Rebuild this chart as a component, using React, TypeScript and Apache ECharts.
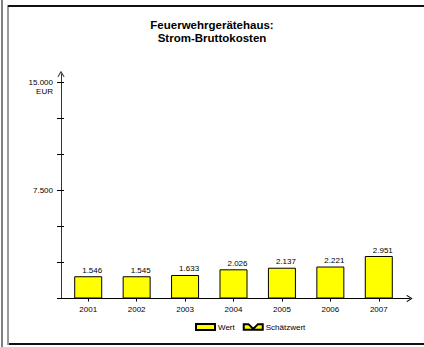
import React, { useEffect, useRef } from "react";
import * as echarts from "echarts";

const titleLines = ["Feuerwehrgerätehaus:", "Strom-Bruttokosten"];
const years = ["2001", "2002", "2003", "2004", "2005", "2006", "2007"];
const wert = [1546, 1545, 1633, 2026, 2137, 2221, 2951];
const schaetzwert: number[] = [];
const seriesNames = ["Wert", "Schätzwert"];
const yMax = 15000;
const yInterval = 2500;
const yLabelValues = [7500, 15000];
const unit = "EUR";

const fmt = (v: number) => String(v).replace(/\B(?=(\d{3})+(?!\d))/g, ".");

const chevron = "path://M5,0L10,8L9,9L5,2.6L1,9L0,8Z";
const FONT = "Liberation Sans, Arial, sans-serif";

export default function App() {
  const ref = useRef<HTMLDivElement>(null);
  useEffect(() => {
    if (!ref.current) return;
    const chart = echarts.init(ref.current, undefined, { renderer: "svg" });
    chart.setOption({
      animation: false,
      backgroundColor: "#fff",
      textStyle: { fontFamily: FONT },
      title: {
        text: titleLines.join("\n"),
        left: "center",
        top: 18,
        padding: [0, 0, 0, 14],
        textStyle: { fontFamily: FONT, fontSize: 11.5, fontWeight: "bold", color: "#000", lineHeight: 13 },
      },
      legend: {
        left: 190,
        top: 318,
        itemWidth: 19,
        itemHeight: 6,
        itemGap: 8,
        textStyle: { fontFamily: FONT, fontSize: 8, color: "#000", padding: [0, 0, 0, -2] },
        data: [
          { name: seriesNames[0], icon: "rect" },
          { name: seriesNames[1], icon: "path://M0,0L5,0L10,5L15,0L20,0L20,6L0,6Z" },
        ],
      },
      grid: [
        { left: 64, top: 82.5, width: 339, height: 216 },
        { left: 61, top: 74, width: 348.5, height: 224.5 },
      ],
      xAxis: [
        {
          gridIndex: 0,
          type: "category",
          data: years,
          axisLine: { show: false },
          axisTick: { show: true, alignWithLabel: true, length: 3, lineStyle: { color: "#000" } },
          axisLabel: { fontFamily: FONT, fontSize: 8, color: "#000", margin: 7 },
          splitLine: { show: false },
        },
        {
          gridIndex: 1,
          type: "value",
          min: 0,
          max: 1,
          axisLine: {
            show: true,
            symbol: ["none", chevron],
            symbolSize: [7, 7],
            lineStyle: { color: "#000", width: 1 },
          },
          axisTick: { show: false },
          axisLabel: { show: false },
          splitLine: { show: false },
        },
      ],
      yAxis: [
        {
          gridIndex: 0,
          type: "value",
          position: "left",
          offset: 3,
          min: 0,
          max: yMax,
          interval: yInterval,
          axisLine: { show: false },
          axisTick: { show: true, length: 4, lineStyle: { color: "#000" } },
          axisLabel: {
            fontFamily: FONT,
            fontSize: 8,
            color: "#000",
            margin: 8,
            lineHeight: 9,
            formatter: (v: number) => {
              if (!yLabelValues.includes(v)) return "";
              return v === yMax ? " \n" + fmt(v) + "\n" + unit : fmt(v);
            },
          },
          splitLine: { show: false },
        },
        {
          gridIndex: 0,
          type: "value",
          position: "left",
          offset: 3,
          min: 0,
          max: yMax,
          interval: yInterval,
          axisLine: { show: false },
          axisTick: { show: true, inside: true, length: 3, lineStyle: { color: "#000" } },
          axisLabel: { show: false },
          splitLine: { show: false },
        },
        {
          gridIndex: 1,
          type: "value",
          min: 0,
          max: 1,
          axisLine: {
            show: true,
            symbol: ["none", chevron],
            symbolSize: [7, 7],
            lineStyle: { color: "#333", width: 1 },
          },
          axisTick: { show: false },
          axisLabel: { show: false },
          splitLine: { show: false },
        },
      ],
      series: [
        {
          name: seriesNames[0],
          type: "bar",
          xAxisIndex: 0,
          yAxisIndex: 0,
          stack: "s",
          barWidth: 28,
          data: wert,
          itemStyle: { color: "#FFFF00", borderColor: "#000", borderWidth: 1 },
          label: {
            show: true,
            position: "top",
            distance: 2,
            offset: [4, 0],
            fontFamily: FONT,
            fontSize: 8,
            color: "#000",
            formatter: (p: any) => fmt(p.value),
          },
        },
        {
          name: seriesNames[1],
          type: "bar",
          xAxisIndex: 0,
          yAxisIndex: 0,
          stack: "s",
          barWidth: 28,
          data: schaetzwert,
          itemStyle: { color: "#FFFF00", borderColor: "#000", borderWidth: 1 },
        },
      ],
    });
    return () => chart.dispose();
  }, []);

  return (
    <div style={{ position: "fixed", left: 0, top: 0, width: 424, height: 347, background: "#fff" }}>
      <div ref={ref} style={{ position: "absolute", left: 0, top: 0, width: 424, height: 347 }} />
      <div style={{ position: "absolute", left: 1, top: 0, width: 2, height: 347, background: "#808080", pointerEvents: "none" }} />
      <div style={{ position: "absolute", left: 7, top: 5, width: 2, height: 340, background: "#9a9a9a", pointerEvents: "none" }} />
      <div style={{ position: "absolute", left: 8, top: 5, width: 416, height: 2, background: "#111", pointerEvents: "none" }} />
      <div style={{ position: "absolute", left: 9, top: 343, width: 415, height: 2, background: "#111", pointerEvents: "none" }} />
    </div>
  );
}
